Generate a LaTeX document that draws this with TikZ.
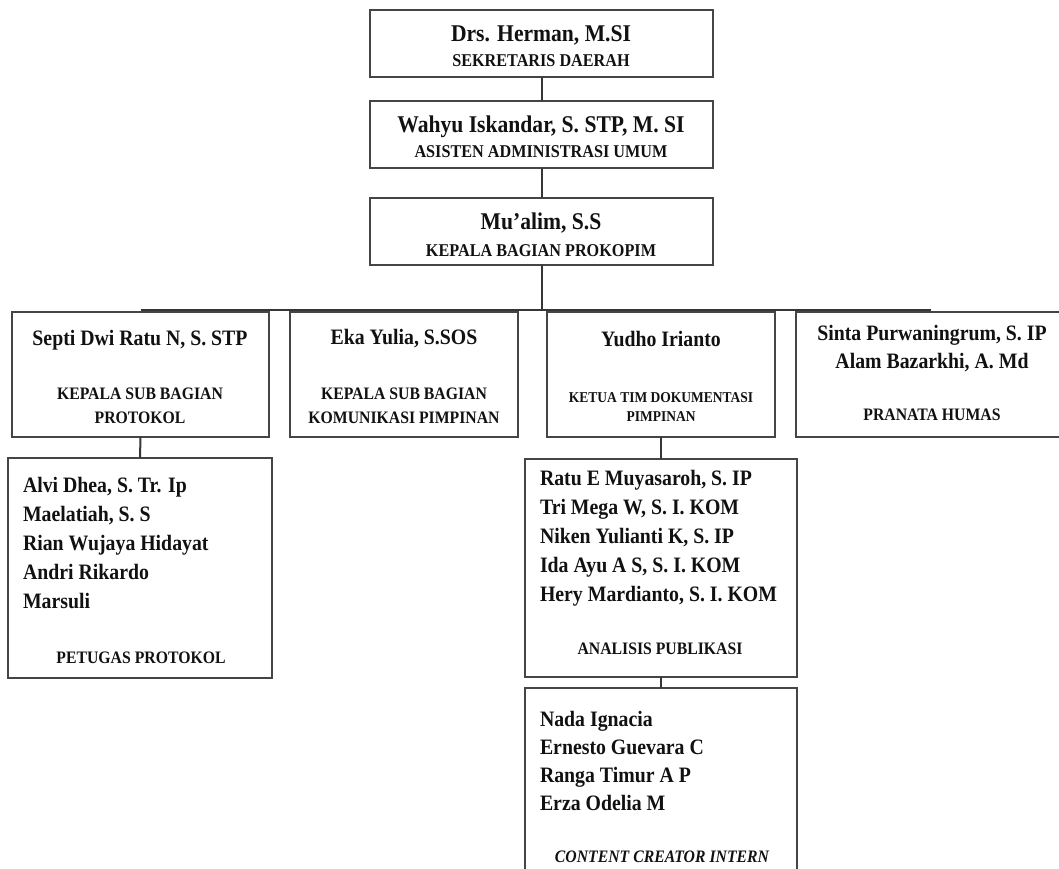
\documentclass[tikz,border=0pt]{standalone}
\usepackage{fontspec}
\setmainfont{Liberation Serif}[FakeStretch=0.9]
\definecolor{boxgray}{HTML}{454545}
\definecolor{linegray}{HTML}{363636}
\definecolor{ink}{HTML}{111111}
\tikzset{
  orgbox/.style={draw=boxgray, line width=2pt, inner sep=0pt, outer sep=0pt, anchor=north west},
  conn/.style={draw=linegray, line width=2pt},
  orgtxt/.style={inner sep=0pt, outer sep=0pt, text=ink, font=\bfseries},
  bigname/.style={orgtxt, anchor=base, font=\bfseries\fontsize{24}{29}\selectfont},
  pname/.style={orgtxt, anchor=base, font=\bfseries\fontsize{22}{27}\selectfont},
  member/.style={orgtxt, anchor=base west, font=\bfseries\fontsize{22}{27}\selectfont},
  bigtitle/.style={orgtxt, anchor=base, font=\bfseries\fontsize{18}{22}\selectfont},
  ptitle/.style={orgtxt, anchor=base, font=\bfseries\fontsize{17.5}{21}\selectfont},
  smalltitle/.style={orgtxt, anchor=base, font=\bfseries\fontsize{15}{18}\selectfont},
}
\begin{document}
\begin{tikzpicture}[x=1pt, y=-1pt]
\useasboundingbox (0,0) rectangle (1059,869);
\clip (0,0) rectangle (1059,869);
% boxes
\node[orgbox, minimum width=343pt, minimum height=67pt] (b1) at (370,10) {};
\node[orgbox, minimum width=343pt, minimum height=67pt] (b2) at (370,101) {};
\node[orgbox, minimum width=343pt, minimum height=67pt] (b3) at (370,198) {};
\node[orgbox, minimum width=257pt, minimum height=125pt] (bA) at (12,312) {};
\node[orgbox, minimum width=228pt, minimum height=125pt] (bB) at (290,312) {};
\node[orgbox, minimum width=228pt, minimum height=125pt] (bC) at (547,312) {};
\node[orgbox, minimum width=270pt, minimum height=125pt] (bD) at (796,312) {};
\node[orgbox, minimum width=264pt, minimum height=220pt] (bA1) at (8,458) {};
\node[orgbox, minimum width=272pt, minimum height=218pt] (bC1) at (525,459) {};
\node[orgbox, minimum width=272pt, minimum height=210pt] (bC2) at (525,688) {};
% connectors
\coordinate (busL) at (bA.north |- 0,310);
\coordinate (busR) at (bD.north |- 0,310);
\draw[conn] (b1.south) -- (b2.north);
\draw[conn] (b2.south) -- (b3.north);
\draw[conn] (b3.south) -- (b3.south |- busL);
\draw[conn] (busL) -- (busR);
\draw[conn] (bA.south) -- (bA1.north);
\draw[conn] (bC.south) -- (bC1.north);
\draw[conn] (bC1.south) -- (bC2.north);
% top texts
\node[bigname] (n1) at (541,42) {Drs. Herman, M.SI};
\node[bigtitle] (t1) at (541,67) {SEKRETARIS DAERAH};
\node[bigname] (n2) at (541,133) {Wahyu Iskandar, S. STP, M. SI};
\node[bigtitle] (t2) at (541,158) {ASISTEN ADMINISTRASI UMUM};
\node[bigname] (n3) at (541,229) {Mu’alim, S.S};
\node[bigtitle] (t3) at (541,256) {KEPALA BAGIAN PROKOPIM};
% row texts
\node[pname] (nA) at (140,345) {Septi Dwi Ratu N, S. STP};
\node[ptitle] (tA1) at (140,399) {KEPALA SUB BAGIAN};
\node[ptitle] (tA2) at (140,423) {PROTOKOL};
\node[pname] (nB) at (404,344) {Eka Yulia, S.SOS};
\node[ptitle] (tB1) at (404,399) {KEPALA SUB BAGIAN};
\node[ptitle] (tB2) at (404,423) {KOMUNIKASI PIMPINAN};
\node[pname] (nC) at (661,346) {Yudho Irianto};
\node[smalltitle] (tC1) at (661,402) {KETUA TIM DOKUMENTASI};
\node[smalltitle] (tC2) at (661,421) {PIMPINAN};
\node[pname] (nD1) at (932,340) {Sinta Purwaningrum, S. IP};
\node[pname] (nD2) at (932,368) {Alam Bazarkhi, A. Md};
\node[ptitle] (tD) at (932,420) {PRANATA HUMAS};
% protokol members
\node[member] (a1) at (23,492) {Alvi Dhea, S. Tr. Ip};
\node[member] (a2) at (23,521) {Maelatiah, S. S};
\node[member] (a3) at (23,550) {Rian Wujaya Hidayat};
\node[member] (a4) at (23,579) {Andri Rikardo};
\node[member] (a5) at (23,608) {Marsuli};
\node[ptitle] (tA3) at (141,663) {PETUGAS PROTOKOL};
% analisis members
\node[member] (c1) at (540,485.5) {Ratu E Muyasaroh, S. IP};
\node[member] (c2) at (540,514) {Tri Mega W, S. I. KOM};
\node[member] (c3) at (540,543) {Niken Yulianti K, S. IP};
\node[member] (c4) at (540,572) {Ida Ayu A S, S. I. KOM};
\node[member] (c5) at (540,601) {Hery Mardianto, S. I. KOM};
\node[ptitle] (tC3) at (660,654.5) {ANALISIS PUBLIKASI};
% content creator
\node[member] (d1) at (540,726) {Nada Ignacia};
\node[member] (d2) at (540,754) {Ernesto Guevara C};
\node[member] (d3) at (540,782) {Ranga Timur A P};
\node[member] (d4) at (540,810) {Erza Odelia M};
\node[ptitle, font=\bfseries\itshape\fontsize{17.5}{21}\selectfont] (tC4) at (662,862) {CONTENT CREATOR INTERN};
\end{tikzpicture}
\end{document}
